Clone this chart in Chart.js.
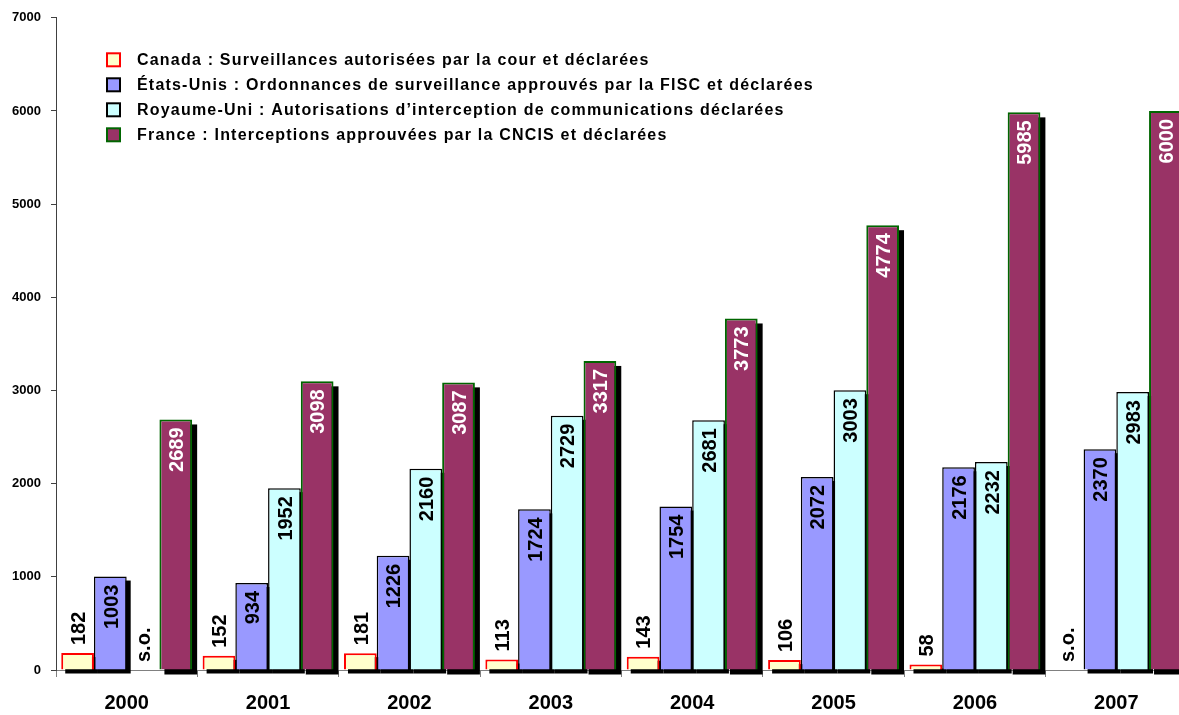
<!DOCTYPE html>
<html><head><meta charset="utf-8">
<script src="https://cdn.jsdelivr.net/npm/chart.js@4.4.0/dist/chart.umd.min.js"></script>
<style>html,body{margin:0;padding:0;background:#fff;overflow:hidden;}#wrap{width:1179px;height:715px;position:relative;overflow:hidden;}canvas{display:block;}</style>
</head><body><div id="wrap"><canvas id="c" width="1187" height="715"></canvas></div>
<script>
// ---- data ----
const years = ['2000','2001','2002','2003','2004','2005','2006','2007'];
const seriesLabels = [
  'Canada : Surveillances autorisées par la cour et déclarées',
  'États-Unis : Ordonnances de surveillance approuvés par la FISC et déclarées',
  'Royaume-Uni : Autorisations d\u2019interception de communications déclarées',
  'France : Interceptions approuvées par la CNCIS et déclarées'
];
const canada = [182, 152, 181, 113, 143, 106, 58, null];
const usa    = [1003, 934, 1226, 1724, 1754, 2072, 2176, 2370];
const uk     = [null, 1952, 2160, 2729, 2681, 3003, 2232, 2983];
const france = [2689, 3098, 3087, 3317, 3773, 4774, 5985, 6000];
const yTicks = [0, 1000, 2000, 3000, 4000, 5000, 6000, 7000];
const naLabel = 's.o.';

// ---- styles ----
const FONT = "'Liberation Sans', Arial, sans-serif";
const fills   = ['#FFFFCC', '#9999FF', '#CCFFFF', '#993366'];
const borders = ['#FF0000', '#000000', '#000000', '#006600'];
const bwidths = [2, 1.5, 1.5, 2];
const lblCol  = ['#000000', '#000000', '#000000', '#FFFFFF'];
const shadowOff = [4, 4, 4, 5];
const seriesData = [canada, usa, uk, france];

const shadowPlugin = {
  id: 'shadows',
  beforeDatasetsDraw(chart) {
    const ctx = chart.ctx;
    ctx.save();
    ctx.fillStyle = '#000';
    chart.data.datasets.forEach((ds, i) => {
      const meta = chart.getDatasetMeta(i);
      meta.data.forEach((el, j) => {
        if (ds.data[j] === null || ds.data[j] === undefined) return;
        const p = el.getProps(['x', 'y', 'base', 'width'], true);
        const o = shadowOff[i];
        ctx.fillRect(p.x - p.width / 2 + o, p.y + o, p.width, p.base - p.y);
      });
    });
    ctx.restore();
  }
};

const labelPlugin = {
  id: 'vlabels',
  afterDatasetsDraw(chart) {
    const ctx = chart.ctx;
    const size = 20;
    ctx.save();
    ctx.font = 'bold ' + size + 'px ' + FONT;
    ctx.textBaseline = 'alphabetic';
    chart.data.datasets.forEach((ds, i) => {
      const meta = chart.getDatasetMeta(i);
      meta.data.forEach((el, j) => {
        const v = ds.data[j];
        const p = el.getProps(['x', 'y', 'base', 'width'], true);
        let txt, yPos, align, color;
        if (v === null || v === undefined) {
          txt = naLabel; yPos = p.base - 8; align = 'left'; color = '#000';
        } else {
          txt = String(v);
          const w = ctx.measureText(txt).width;
          if (p.base - p.y > w + 16) { yPos = p.y + 8; align = 'right'; color = lblCol[i]; }
          else { yPos = p.y - 8; align = 'left'; color = '#000'; }
        }
        ctx.save();
        ctx.translate(p.x, yPos);
        ctx.rotate(-Math.PI / 2);
        ctx.textAlign = align;
        ctx.fillStyle = color;
        ctx.fillText(txt, 0, size * 0.36);
        ctx.restore();
      });
    });
    ctx.restore();
  }
};

const legendPlugin = {
  id: 'customLegend',
  afterDraw(chart) {
    const ctx = chart.ctx;
    const a = chart.chartArea;
    const bx = a.left + 51, y0 = a.top + 42, step = 25, box = 13;
    ctx.save();
    ctx.font = 'bold 16px ' + FONT;
    try { ctx.letterSpacing = '1.2px'; } catch (e) {}
    ctx.textBaseline = 'middle';
    ctx.textAlign = 'left';
    chart.data.datasets.forEach((ds, i) => {
      const cy = y0 + i * step;
      ctx.fillStyle = fills[i];
      ctx.fillRect(bx, cy - box / 2, box, box);
      ctx.strokeStyle = borders[i];
      ctx.lineWidth = 2;
      ctx.strokeRect(bx, cy - box / 2, box, box);
      ctx.fillStyle = '#000';
      ctx.fillText(ds.label, bx + 30, cy + 1);
    });
    ctx.restore();
  }
};

new Chart(document.getElementById('c'), {
  type: 'bar',
  data: {
    labels: years,
    datasets: seriesData.map((d, i) => ({
      label: seriesLabels[i],
      data: d,
      backgroundColor: fills[i],
      borderColor: borders[i],
      borderWidth: bwidths[i],
      categoryPercentage: 0.926,
      barPercentage: 1
    }))
  },
  options: {
    responsive: false,
    animation: false,
    devicePixelRatio: 1,
    layout: { padding: { top: 14, right: 0, left: 0, bottom: 0 } },
    plugins: { legend: { display: false }, tooltip: { enabled: false } },
    scales: {
      x: {
        grid: { display: true, drawOnChartArea: false, offset: true, tickLength: 7, color: '#808080' },
        border: { color: '#808080', width: 1 },
        ticks: { font: { family: FONT, size: 20, weight: 'bold' }, color: '#000', padding: 14, maxRotation: 0 },
        afterFit(s) { s.height = 45; }
      },
      y: {
        min: 0, max: 7000,
        afterBuildTicks(s) { s.ticks = yTicks.map(v => ({ value: v })); },
        ticks: { font: { family: FONT, size: 13, weight: 'bold' }, color: '#000', padding: 10,
                 callback: (v) => String(v) },
        grid: { drawOnChartArea: false, tickLength: 5, color: '#404040' },
        border: { color: '#404040', width: 1 },
        afterFit(s) { s.width = 56; }
      }
    }
  },
  plugins: [shadowPlugin, labelPlugin, legendPlugin]
});
</script>
</body></html>
